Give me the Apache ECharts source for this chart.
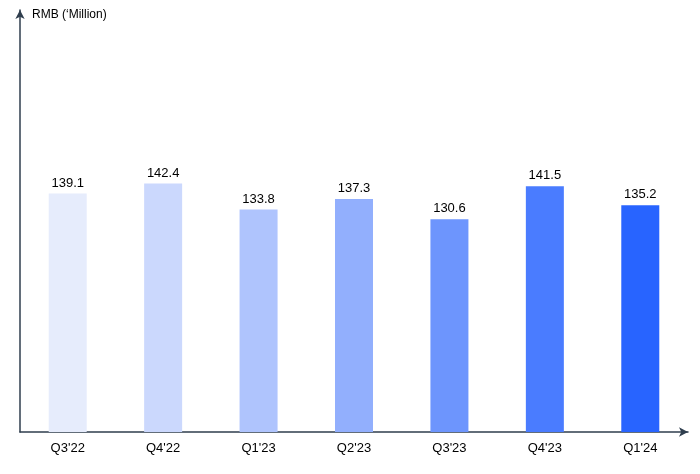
<!DOCTYPE html>
<html>
<head>
<meta charset="utf-8">
<script src="https://cdn.jsdelivr.net/npm/echarts@6/dist/echarts.min.js"></script>
<style>html,body{margin:0;padding:0;background:#fff}#chart{width:700px;height:474px}</style>
</head>
<body>
<div id="chart"></div>
<script>
var categories = ["Q3'22", "Q4'22", "Q1'23", "Q2'23", "Q3'23", "Q4'23", "Q1'24"]
var values = [139.1, 142.4, 133.8, 137.3, 130.6, 141.5, 135.2]
var colors = ['#e6ecfc', '#cbd8fd', '#afc4fd', '#92affd', '#6d95fd', '#4a7cff', '#2864ff']

var chart = echarts.init(document.getElementById('chart'))

var option = {
    animation: false,
    grid: { top: 10, left: 20, right: 12, bottom: 42 },
    xAxis: {
        type: 'category',
        data: categories,
        axisLine: { lineStyle: { color: '#2f3e4e', width: 1.5 }, symbol: ['none', 'arrow'], symbolSize: [7, 9] },
        axisTick: { show: false },
        axisLabel: { color: '#000', fontSize: 13, fontFamily: 'Liberation Sans', margin: 10 }
    },
    yAxis: {
        type: 'value',
        min: 60,
        max: 200,
        axisLine: { show: true, lineStyle: { color: '#2f3e4e', width: 1.5 }, symbol: ['none', 'arrow'], symbolSize: [7, 9] },
        axisTick: { show: false },
        axisLabel: { show: false },
        splitLine: { show: false }
    },
    graphic: [{
        type: 'text', left: 32, top: 9,
        style: { text: 'RMB (\u2018Million)', fill: '#000', font: '12px Liberation Sans' }
    }],
    series: [{
        type: 'bar',
        barWidth: 38,
        data: values.map(function (v, i) { return { value: v, itemStyle: { color: colors[i] } } }),
        label: { show: true, position: 'top', color: '#000', fontSize: 13, fontFamily: 'Liberation Sans', distance: 4 }
    }]
}

chart.setOption(option)
</script>
</body>
</html>
